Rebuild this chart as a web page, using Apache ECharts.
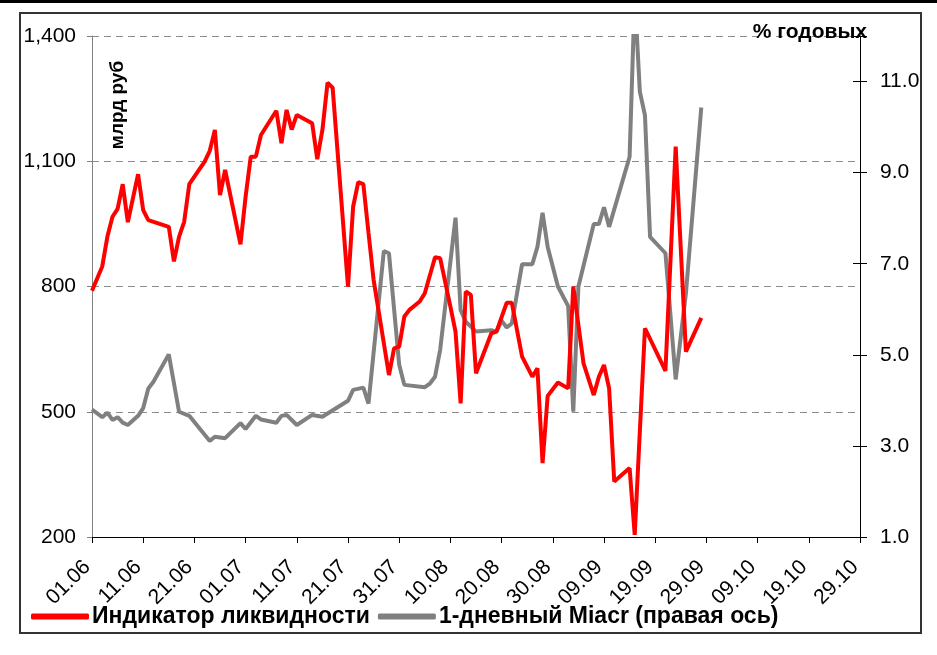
<!DOCTYPE html>
<html>
<head>
<meta charset="utf-8">
<script src="https://cdn.jsdelivr.net/npm/echarts@6/dist/echarts.min.js"></script>
<style>
    html, body { margin: 0; padding: 0; background: #fff; }
    #chart { width: 937px; height: 655px; }
</style>
</head>
<body>
<div id="chart"></div>
<script>
// Индикатор ликвидности, млрд руб (левая ось)
var liqDates = ['01.06', '03.06', '04.06', '05.06', '06.06', '07.06', '08.06', '10.06', '11.06', '12.06',
    '16.06', '17.06', '18.06', '19.06', '20.06', '23.06', '24.06', '25.06', '26.06', '27.06',
    '30.06', '01.07', '02.07', '03.07', '04.07', '07.07', '08.07', '09.07', '10.07', '11.07',
    '14.07', '15.07', '16.07', '17.07', '18.07', '21.07', '22.07', '23.07', '24.07', '25.07',
    '26.07', '29.07', '30.07', '31.07', '01.08', '02.08', '04.08', '05.08', '07.08', '08.08',
    '10.08', '11.08', '12.08', '13.08', '14.08', '15.08', '18.08', '19.08', '21.08', '22.08',
    '24.08', '26.08', '27.08', '28.08', '29.08', '31.08', '02.09', '03.09', '05.09', '07.09',
    '08.09', '09.09', '10.09', '11.09', '14.09', '15.09', '17.09', '21.09', '23.09', '25.09', '28.09'];
var liqValues = [790, 848, 919, 967, 986, 1045, 954, 1069, 983, 959,
    943, 860, 919, 955, 1045, 1099, 1125, 1175, 1019, 1079,
    901, 1015, 1111, 1111, 1163, 1221, 1143, 1223, 1176, 1211,
    1191, 1105, 1175, 1288, 1276, 800, 991, 1050, 1045, 929,
    816, 588, 652, 656, 728, 744, 764, 784, 870, 868,
    752, 692, 520, 788, 780, 592, 688, 692, 761, 761,
    632, 584, 604, 377, 538, 570, 556, 800, 616, 540,
    584, 612, 556, 333, 365, 205, 700, 598, 1135, 644, 725];

// 1-дневный Miacr, % годовых (правая ось)
var miacrDates = ['01.06', '03.06', '04.06', '05.06', '06.06', '07.06', '08.06', '10.06', '11.06', '12.06',
    '13.06', '16.06', '18.06', '20.06', '24.06', '25.06', '27.06', '30.06', '01.07', '03.07',
    '04.07', '07.07', '08.07', '09.07', '11.07', '14.07', '16.07', '21.07', '22.07', '24.07',
    '25.07', '28.07', '29.07', '31.07', '01.08', '05.08', '06.08', '07.08', '08.08', '11.08',
    '12.08', '13.08', '15.08', '18.08', '19.08', '20.08', '21.08', '22.08', '24.08', '26.08',
    '27.08', '28.08', '29.08', '31.08', '02.09', '03.09', '04.09', '07.09', '08.09', '09.09',
    '10.09', '14.09', '15.09', '16.09', '17.09', '18.09', '21.09', '23.09', '25.09', '28.09'];
var miacrValues = [3.80, 3.63, 3.73, 3.57, 3.63, 3.51, 3.46, 3.66, 3.83, 4.26,
    4.41, 5.01, 3.75, 3.66, 3.11, 3.20, 3.17, 3.50, 3.37, 3.66,
    3.58, 3.51, 3.66, 3.68, 3.46, 3.68, 3.64, 3.99, 4.23, 4.28,
    3.93, 7.28, 7.23, 4.78, 4.34, 4.29, 4.37, 4.52, 5.11, 8.01,
    5.98, 5.73, 5.51, 5.54, 5.51, 5.75, 5.60, 5.69, 6.99, 6.99,
    7.37, 8.12, 7.37, 6.50, 6.07, 3.75, 6.50, 7.87, 7.87, 8.24,
    7.81, 9.35, 12.9, 10.78, 10.26, 7.59, 7.23, 4.46, 6.35, 10.43];

var seriesNames = ['Индикатор ликвидности', '1-дневный Miacr (правая ось)'];

var YEAR = 2007;
var START = Date.UTC(YEAR, 5, 1);
var DAY = 86400000;

// дата 'дд.мм' -> номер дня от 01.06
function dayOffset(s) {
    var p = s.split('.');
    return (Date.UTC(YEAR, +p[1] - 1, +p[0]) - START) / DAY;
}

function pairs(dates, values) {
    return dates.map(function (d, i) { return [dayOffset(d), values[i]]; });
}

function pad(n) { return n < 10 ? '0' + n : '' + n; }

var FONT = 'Liberation Sans, Arial, sans-serif';

var chart = echarts.init(document.getElementById('chart'), null, {renderer: 'canvas'});

chart.setOption({
    animation: false,
    backgroundColor: '#fff',
    grid: {left: 92, right: 77, top: 36, bottom: 118},
    legend: {
        left: 26,
        top: 600,
        itemWidth: 58,
        itemHeight: 6,
        itemGap: 8,
        icon: 'roundRect',
        data: seriesNames,
        textStyle: {fontFamily: FONT, fontSize: 23, fontWeight: 'bold', color: '#000', padding: [0, 0, 0, -2]}
    },
    xAxis: {
        type: 'value',
        min: 0,
        max: 150,
        interval: 10,
        axisLine: {lineStyle: {color: '#000', width: 1}},
        axisTick: {show: true, length: 6, lineStyle: {color: '#000'}},
        splitLine: {show: false},
        axisLabel: {
            rotate: 45,
            margin: 22,
            padding: [0, 7, 0, 0],
            fontFamily: FONT,
            fontSize: 21,
            color: '#000',
            formatter: function (v) {
                var d = new Date(START + v * DAY);
                return pad(d.getUTCDate()) + '.' + pad(d.getUTCMonth() + 1);
            }
        }
    },
    yAxis: [{
        type: 'value',
        position: 'left',
        min: 200,
        max: 1400,
        interval: 300,
        axisLine: {show: true, lineStyle: {color: '#808080'}},
        axisTick: {show: true, length: 5, lineStyle: {color: '#808080'}},
        splitLine: {show: true, lineStyle: {color: '#8c8c8c', type: [7, 5], width: 1}},
        axisLabel: {
            fontFamily: FONT,
            fontSize: 21,
            color: '#000',
            margin: 16,
            formatter: function (v) {
                return v >= 1000 ? Math.floor(v / 1000) + ',' + String(v % 1000).padStart(3, '0') : String(v);
            }
        }
    }, {
        type: 'value',
        position: 'right',
        min: 1,
        max: 12,
        interval: 2,
        axisLine: {show: true, lineStyle: {color: '#000'}},
        axisTick: {show: true, length: 7, lineStyle: {color: '#000'}},
        splitLine: {show: false},
        axisLabel: {
            fontFamily: FONT,
            fontSize: 21,
            color: '#000',
            margin: 20,
            formatter: function (v) { return v === 12 ? '' : v.toFixed(1); }
        }
    }, {
        // внутренние засечки правой оси
        type: 'value',
        position: 'right',
        min: 1,
        max: 12,
        interval: 2,
        axisLine: {show: false},
        axisTick: {show: true, inside: true, length: 7, lineStyle: {color: '#000'}},
        splitLine: {show: false},
        axisLabel: {show: false}
    }],
    series: [{
        name: seriesNames[0],
        type: 'line',
        yAxisIndex: 0,
        data: pairs(liqDates, liqValues),
        showSymbol: false,
        symbol: 'none',
        color: '#ff0000',
        lineStyle: {color: '#ff0000', width: 4},
        z: 3
    }, {
        name: seriesNames[1],
        type: 'line',
        yAxisIndex: 1,
        data: pairs(miacrDates, miacrValues),
        showSymbol: false,
        symbol: 'none',
        color: '#808080',
        lineStyle: {color: '#808080', width: 4},
        z: 2
    }],
    graphic: [{
        type: 'rect',
        shape: {x: 0, y: 0, width: 937, height: 3},
        style: {fill: '#000'},
        silent: true
    }, {
        type: 'rect',
        shape: {x: 20, y: 13, width: 901, height: 620},
        style: {fill: null, stroke: '#333', lineWidth: 2},
        silent: true
    }, {
        type: 'text',
        x: 867,
        y: 32,
        style: {
            text: '% годовых',
            font: 'bold 21px ' + FONT,
            fill: '#000',
            align: 'right',
            verticalAlign: 'middle'
        },
        z: 10
    }, {
        type: 'text',
        x: 118,
        y: 105,
        rotation: Math.PI / 2,
        style: {
            text: 'млрд руб',
            font: 'bold 19px ' + FONT,
            fill: '#000',
            align: 'center',
            verticalAlign: 'middle'
        },
        z: 10
    }]
});
</script>
</body>
</html>
